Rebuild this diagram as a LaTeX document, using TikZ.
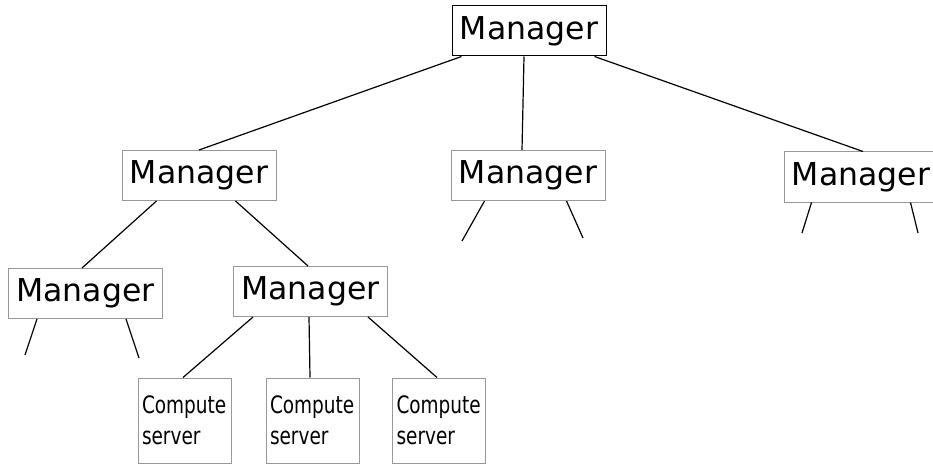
\documentclass[tikz,border=0pt]{standalone}
\usepackage{fontspec}
\setmainfont{DejaVu Sans}
\newfontfamily\condfont[FakeStretch=0.77]{DejaVu Sans}
\usetikzlibrary{positioning, calc}

\begin{document}
\begin{tikzpicture}[
    x=1pt, y=-1pt,
    mgrnode/.style={rectangle, draw=black!40, line width=1pt, minimum width=154pt, minimum height=50pt, inner sep=0pt, font=\fontsize{31.5}{36}\selectfont},
    topnode/.style={mgrnode, draw=black},
    computenode/.style={rectangle, draw=black!40, line width=1pt, minimum width=93pt, minimum height=85pt, text width=85pt, inner sep=4pt, align=left, font=\condfont\fontsize{24}{31}\selectfont},
    link/.style={line width=1.2pt, color=black}
]
\useasboundingbox (0,0) rectangle (933,465);

\node[topnode] (top) at (529,31) {Manager};
\node[mgrnode] (mgrA) at (199,175.5) {Manager};
\node[mgrnode] (mgrB) at (528,175.5) {Manager};
\node[mgrnode] (mgrC) at (861,177) {Manager};
\node[mgrnode] (mgrD) at (85.5,293.5) {Manager};
\node[mgrnode] (mgrE) at (310.5,291.5) {Manager};

\node[computenode] (srv1) at (184.5,420.5) {Compute\\server};
\node[computenode] (srv2) at (312.5,420.5) {Compute\\server};
\node[computenode] (srv3) at (439,420.5) {Compute\\server};

% loose ends below the unexpanded managers
\coordinate (mgrB-l) at (462,241);
\coordinate (mgrB-r) at (583,238);
\coordinate (mgrC-l) at (802,233);
\coordinate (mgrC-r) at (918,233);
\coordinate (mgrD-l) at (25,355);
\coordinate (mgrD-r) at (139,358);

\draw[link] ([xshift=10pt]top.south west) -- (mgrA.north);
\draw[link] ([xshift=-5pt]top.south) -- ([xshift=-6pt]mgrB.north);
\draw[link] ([xshift=-12pt]top.south east) -- ([xshift=2pt]mgrC.north);

\draw[link] ([xshift=35pt]mgrA.south west) -- ([xshift=-3.5pt]mgrD.north);
\draw[link] ([xshift=-41pt]mgrA.south east) -- ([xshift=-2.5pt]mgrE.north);

\draw[link] ([xshift=34pt]mgrB.south west) -- (mgrB-l);
\draw[link] ([xshift=-39pt]mgrB.south east) -- (mgrB-r);
\draw[link] ([xshift=28pt]mgrC.south west) -- (mgrC-l);
\draw[link] ([xshift=-28pt]mgrC.south east) -- (mgrC-r);
\draw[link] ([xshift=29pt]mgrD.south west) -- (mgrD-l);
\draw[link] ([xshift=-37pt]mgrD.south east) -- (mgrD-r);

\draw[link] ([xshift=20pt]mgrE.south west) -- ([xshift=-1.5pt]srv1.north);
\draw[link] ([xshift=-1.5pt]mgrE.south) -- ([xshift=-2.5pt]srv2.north);
\draw[link] ([xshift=-20pt]mgrE.south east) -- ([xshift=-2pt]srv3.north);

\end{tikzpicture}
\end{document}
